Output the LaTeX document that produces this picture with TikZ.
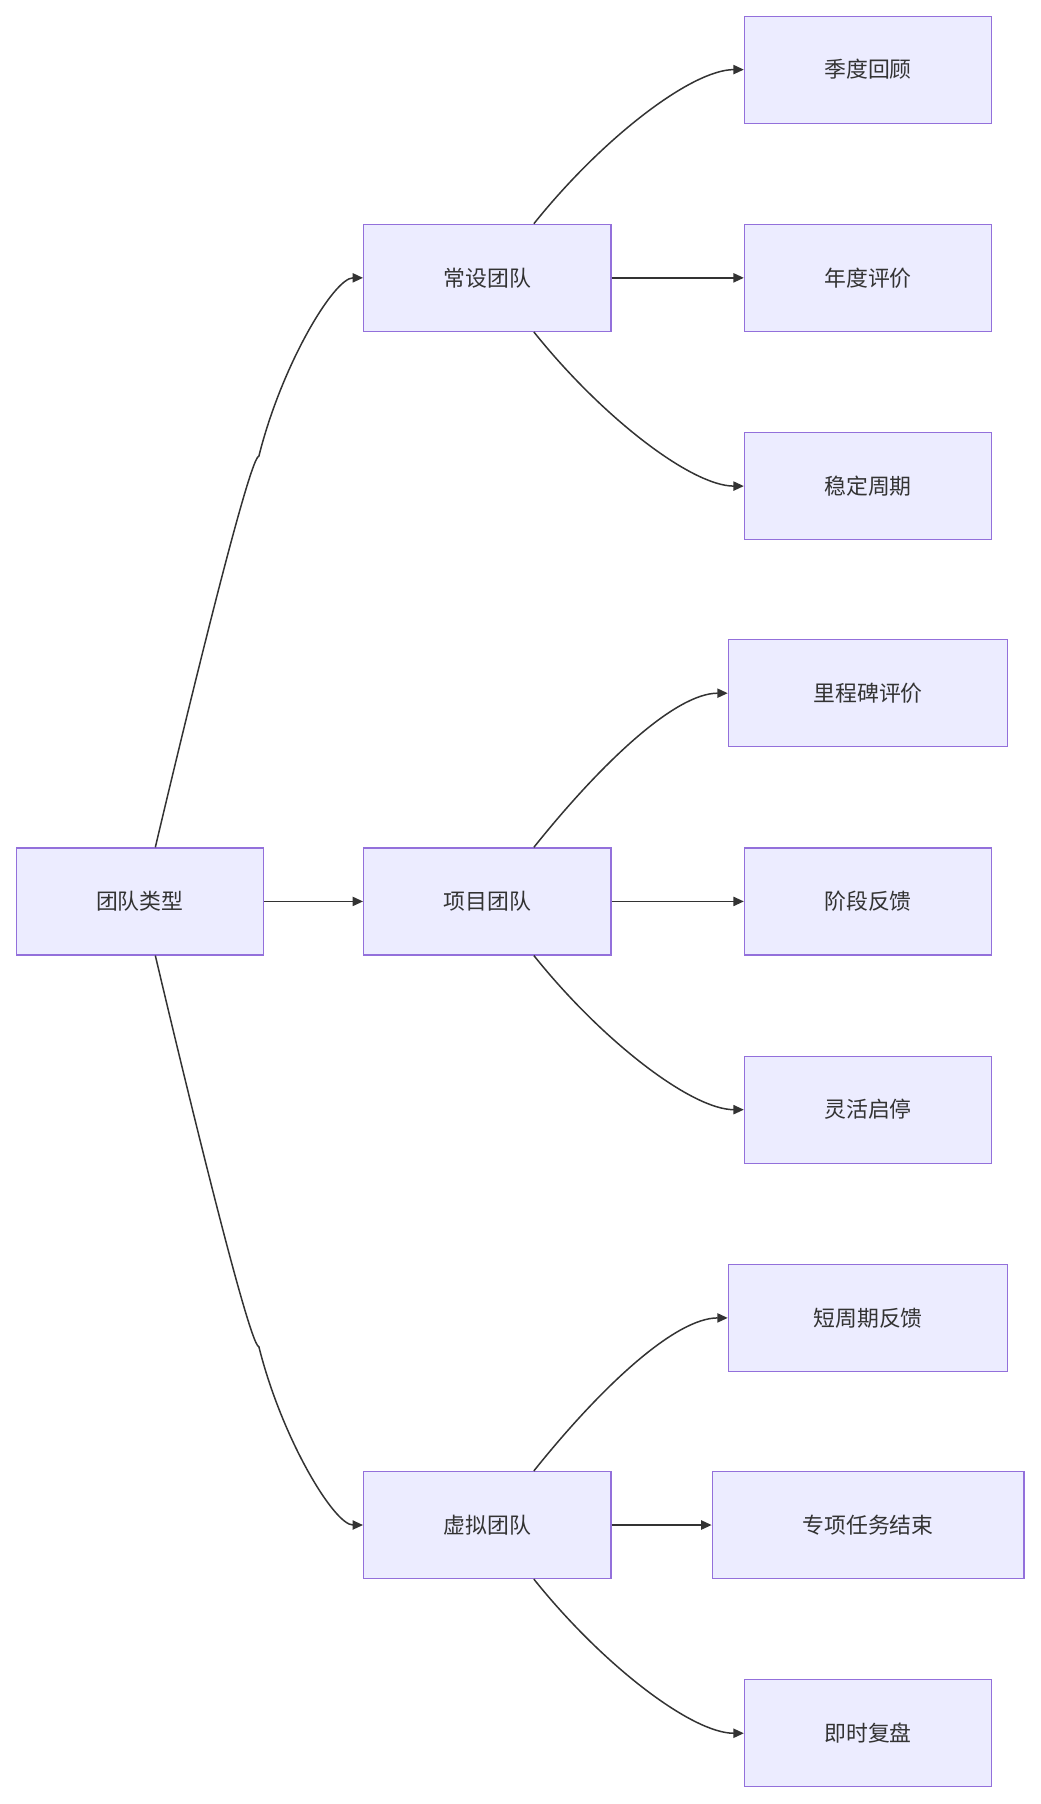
\documentclass[tikz,border=0pt]{standalone}
\usepackage{fontspec}
\setmainfont{Noto Sans CJK SC}
\usetikzlibrary{arrows.meta}
\definecolor{nfill}{HTML}{ECECFF}
\definecolor{nline}{HTML}{9370DB}
\definecolor{eline}{HTML}{333333}
\begin{document}
\begin{tikzpicture}[x=1pt,y=-1pt,
  box/.style={draw=nline,fill=nfill,line width=1pt,minimum height=93pt,inner sep=0pt,font=\fontsize{19}{22}\selectfont,text=eline},
  w215/.style={minimum width=215pt},
  link/.style={draw=eline,line width=1.3pt,-{Triangle[length=9pt,width=8pt]}}]
\useasboundingbox[fill=white] (0,0) rectangle (904,1568);
\node[box,w215] (root) at (121.5,783.5) {团队类型};
\node[box,w215] (a) at (423.5,241.5) {常设团队};
\node[box,w215] (b) at (423.5,783.5) {项目团队};
\node[box,w215] (c) at (423.5,1325.5) {虚拟团队};
\node[box,w215] (a1) at (754.5,60.5) {季度回顾};
\node[box,w215] (a2) at (754.5,241.5) {年度评价};
\node[box,w215] (a3) at (754.5,422.5) {稳定周期};
\node[box,minimum width=243pt] (b1) at (754.5,602.5) {里程碑评价};
\node[box,w215] (b2) at (754.5,783.5) {阶段反馈};
\node[box,w215] (b3) at (754.5,964.5) {灵活启停};
\node[box,minimum width=243pt] (c1) at (754.5,1145.5) {短周期反馈};
\node[box,minimum width=271pt] (c2) at (754.5,1325.5) {专项任务结束};
\node[box,w215] (c3) at (754.5,1506.5) {即时复盘};
\draw[link] ([xshift=13.5pt]root.north) .. controls +(0,0) and +(-10,0) .. +(90,-340) .. controls +(20,-80) and +(-25,0) .. (a.west);
\draw[link] (root.east) -- (b.west);
\draw[link] ([xshift=13.5pt]root.south) .. controls +(0,0) and +(-10,0) .. +(90,340) .. controls +(20,80) and +(-25,0) .. (c.west);
\foreach \p/\u/\m/\d in {a/a1/a2/a3,b/b1/b2/b3,c/c1/c2/c3}{
  \draw[link] ([xshift=40.5pt]\p.north) .. controls +(60,-75) and +(-45,0) .. (\u.west);
  \draw[link] (\p.east) -- (\m.west);
  \draw[link] ([xshift=40.5pt]\p.south) .. controls +(60,75) and +(-45,0) .. (\d.west);
}
\end{tikzpicture}
\end{document}
